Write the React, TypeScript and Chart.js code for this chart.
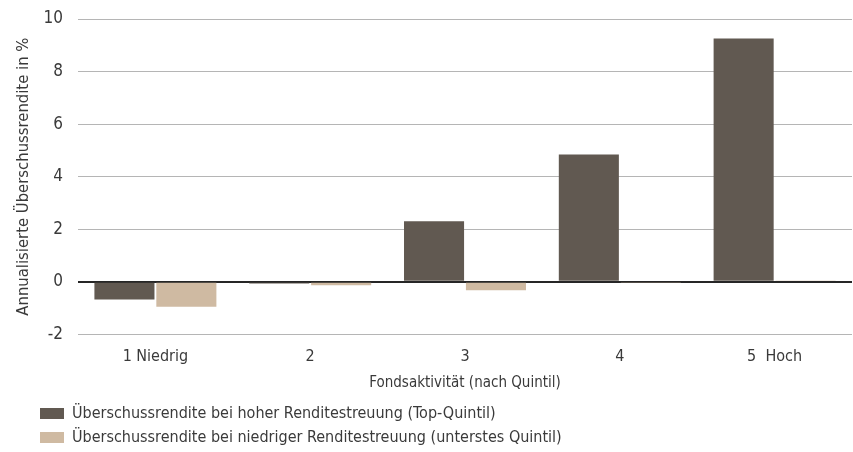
import React, { useEffect, useRef } from "react";
import { Chart, registerables } from "chart.js";

Chart.register(...registerables);

const categories = ["1 Niedrig", "2", "3", "4", "5  Hoch"];
const highDispersion = [-0.68, -0.07, 2.3, 4.84, 9.26];
const lowDispersion = [-0.95, -0.13, -0.32, -0.05, 0.05];
const seriesLabels = [
  "Überschussrendite bei hoher Renditestreuung (Top-Quintil)",
  "Überschussrendite bei niedriger Renditestreuung (unterstes Quintil)",
];
const yTitle = "Annualisierte Überschussrendite in %";
const xTitle = "Fondsaktivität (nach Quintil)";

const FONT = "'Liberation Sans Narrow', 'DejaVu Sans Condensed', sans-serif";
const TEXT = "#3a3a3a";

const legendShift = {
  id: "legendShift",
  afterLayout(chart: any) {
    if (chart.legend) {
      chart.legend.left = 32;
    }
  },
};

export default function App() {
  const ref = useRef<HTMLCanvasElement | null>(null);
  useEffect(() => {
    if (!ref.current) return;
    const chart = new Chart(ref.current, {
      type: "bar",
      data: {
        labels: categories,
        datasets: [
          {
            label: seriesLabels[0],
            data: highDispersion,
            backgroundColor: "#615951",
            barPercentage: 0.97,
            categoryPercentage: 0.8,
          },
          {
            label: seriesLabels[1],
            data: lowDispersion,
            backgroundColor: "#cfbaa2",
            barPercentage: 0.97,
            categoryPercentage: 0.8,
          },
        ],
      },
      options: {
        animation: false,
        responsive: false,
        layout: { padding: { top: 19, left: 0, right: 1, bottom: -3.5 } },
        plugins: {
          tooltip: { enabled: false },
          legend: {
            position: "bottom",
            align: "start",
            labels: {
              boxWidth: 24,
              boxHeight: 11,
              padding: 8,
              color: TEXT,
              font: { family: FONT, size: 16 },
            },
          },
        },
        scales: {
          x: {
            grid: { display: false, drawTicks: false },
            border: { display: false },
            ticks: { color: TEXT, padding: 13, font: { family: FONT, size: 16 } },
            title: {
              display: true,
              text: xTitle,
              color: TEXT,
              font: { family: FONT, size: 15 },
              padding: { top: -5, bottom: 5 },
            },
          },
          y: {
            min: -2,
            max: 10,
            ticks: {
              stepSize: 2,
              color: TEXT,
              padding: 15,
              font: { family: FONT, size: 17 },
            },
            grid: {
              drawTicks: false,
              color: (ctx: any) => (ctx.tick && ctx.tick.value === 0 ? "#262626" : "#b5b5b5"),
              lineWidth: (ctx: any) => (ctx.tick && ctx.tick.value === 0 ? 2 : 1),
            },
            border: { display: false },
            title: {
              display: true,
              text: yTitle,
              color: TEXT,
              font: { family: FONT, size: 16.5 },
              padding: { top: 14, bottom: 0 },
            },
            afterFit: (scale: any) => {
              scale.width = 78;
              scale.paddingTop = 0;
              scale.paddingBottom = 0;
            },
          },
        },
      },
      plugins: [legendShift],
    });
    return () => chart.destroy();
  }, []);
  return (
    <div style={{ position: "absolute", left: 0, top: 0, width: 853, height: 452 }}>
      <canvas ref={ref} width={853} height={452} style={{ display: "block" }} />
    </div>
  );
}
